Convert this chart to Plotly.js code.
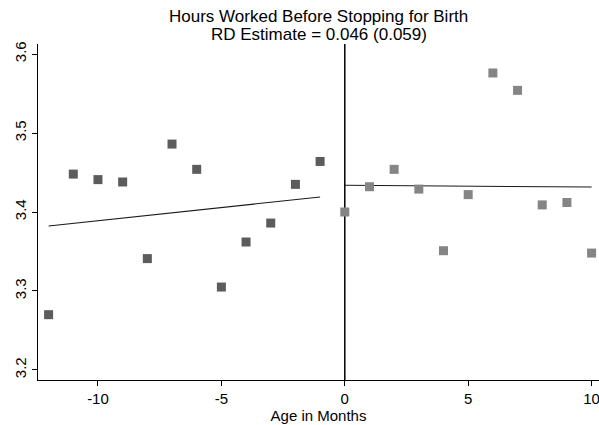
<!DOCTYPE html>
<html>
<head>
<meta charset="utf-8">
<script src="https://cdn.plot.ly/plotly-3.0.1.min.js"></script>
<style>
  html, body { margin: 0; padding: 0; background: #ffffff; }
  #chart { width: 599px; height: 425px; }
</style>
</head>
<body>
<div id="chart"></div>
<script>
// Binned means of hours worked, by age in months relative to the cutoff
const monthsBefore = [-12, -11, -10, -9, -8, -7, -6, -5, -4, -3, -2, -1];
const hoursBefore  = [3.270, 3.448, 3.441, 3.438, 3.341, 3.486, 3.454, 3.305, 3.362, 3.386, 3.435, 3.464];

const monthsAfter = [0, 1, 2, 3, 4, 5, 6, 7, 8, 9, 10];
const hoursAfter  = [3.400, 3.432, 3.454, 3.429, 3.351, 3.422, 3.576, 3.554, 3.409, 3.412, 3.348];

// Linear fits on each side of the cutoff
const fitBeforeX = [-12, -1];
const fitBeforeY = [3.3823, 3.419];
const fitAfterX  = [0, 10];
const fitAfterY  = [3.4338, 3.4316];

const xTicks = [-10, -5, 0, 5, 10];
const yTicks = [3.2, 3.3, 3.4, 3.5, 3.6];

const titleLines = ['Hours Worked Before Stopping for Birth', 'RD Estimate = 0.046 (0.059)'];

const font = 'Liberation Sans, Arial, Helvetica, sans-serif';

const traces = [
  {
    x: fitBeforeX, y: fitBeforeY, type: 'scatter', mode: 'lines',
    line: { color: '#1a1a1a', width: 1.1 }, hoverinfo: 'skip'
  },
  {
    x: fitAfterX, y: fitAfterY, type: 'scatter', mode: 'lines',
    line: { color: '#1a1a1a', width: 1.1 }, hoverinfo: 'skip'
  },
  {
    x: monthsBefore, y: hoursBefore, type: 'scatter', mode: 'markers',
    marker: { symbol: 'square', size: 9, color: '#5c5c5c', line: { width: 0 } }
  },
  {
    x: monthsAfter, y: hoursAfter, type: 'scatter', mode: 'markers',
    marker: { symbol: 'square', size: 9, color: '#858585', line: { width: 0 } }
  }
];

// Two-line heading, centred over the plot area
const titleShift = [27.5, 10];
const annotations = titleLines.map((t, i) => ({
  text: t, showarrow: false,
  xref: 'paper', x: 0.5, xanchor: 'center',
  yref: 'paper', y: 1, yanchor: 'middle', yshift: titleShift[i],
  font: { family: font, size: 17, color: '#000000' }
}));

const layout = {
  width: 599,
  height: 425,
  showlegend: false,
  paper_bgcolor: '#ffffff',
  plot_bgcolor: '#ffffff',
  margin: { l: 38, r: 0, t: 44, b: 45 },
  font: { family: font, color: '#000000', size: 15 },
  annotations: annotations,
  xaxis: {
    range: [-12.43, 10.3],
    tickvals: xTicks,
    ticktext: xTicks.map(String),
    ticklabeloverflow: 'allow',
    ticks: 'outside', ticklen: 5, tickwidth: 1, tickcolor: '#000',
    showline: true, linecolor: '#000', linewidth: 1.3,
    showgrid: false, zeroline: false,
    tickfont: { family: font, size: 15 },
    title: { text: 'Age in Months', font: { family: font, size: 15 }, standoff: 3 }
  },
  yaxis: {
    range: [3.1873, 3.6127],
    tickvals: yTicks,
    ticktext: yTicks.map(v => v.toFixed(1)),
    tickangle: -90,
    ticks: 'outside', ticklen: 5, tickwidth: 1, tickcolor: '#000',
    showline: true, linecolor: '#000', linewidth: 1.3,
    showgrid: false, zeroline: false,
    tickfont: { family: font, size: 15 }
  },
  shapes: [
    {
      type: 'line', xref: 'x', yref: 'paper',
      x0: 0, x1: 0, y0: 0, y1: 1,
      line: { color: '#000000', width: 1.5 },
      layer: 'below'
    }
  ]
};

Plotly.newPlot('chart', traces, layout, { displayModeBar: false, staticPlot: true });
</script>
</body>
</html>
